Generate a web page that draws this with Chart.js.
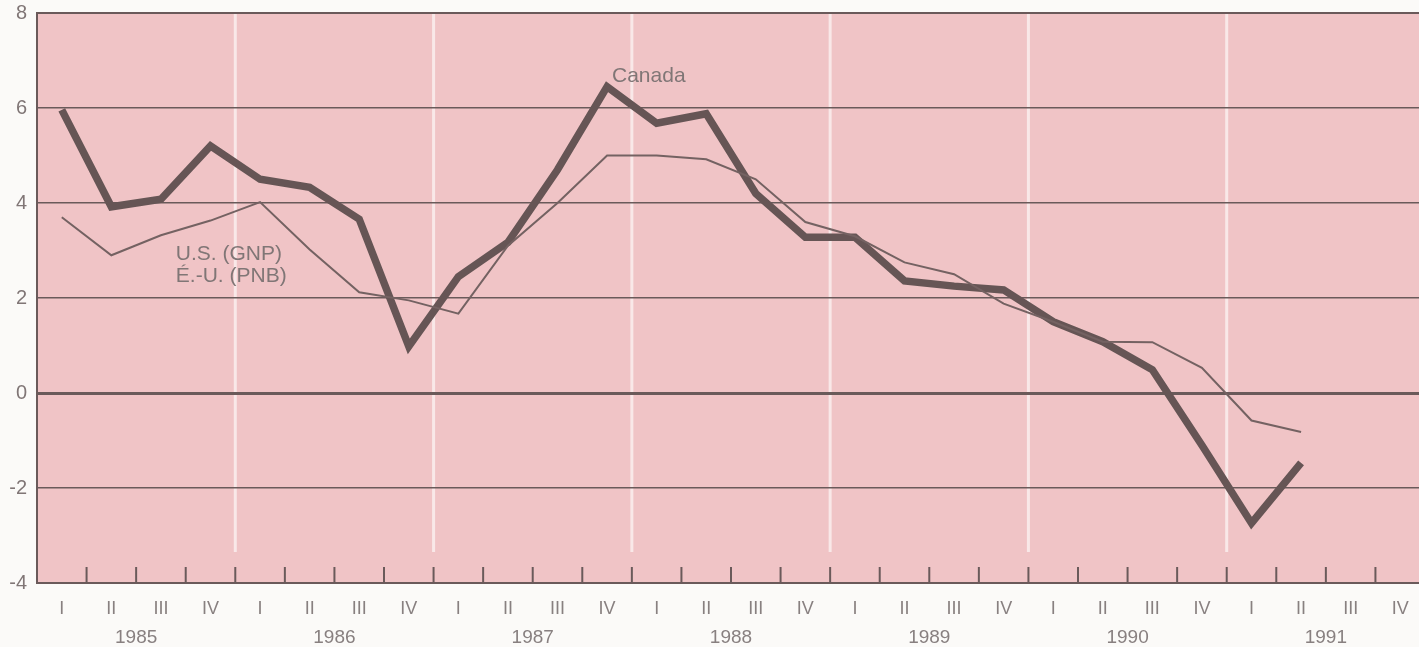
<!DOCTYPE html>
<html>
<head>
<meta charset="utf-8">
<script src="https://cdn.jsdelivr.net/npm/chart.js@4.4.1/dist/chart.umd.min.js"></script>
<style>
    html, body { margin: 0; padding: 0; background: #fbfaf8; overflow: hidden; }
    #wrap { width: 1425px; height: 647px; position: relative; }
</style>
</head>
<body>
<div id="wrap"><canvas id="chart"></canvas></div>
<script>
// Quarterly data, 1985 I to 1991 IV
const quarters = ['I', 'II', 'III', 'IV', 'I', 'II', 'III', 'IV', 'I', 'II', 'III', 'IV', 'I', 'II', 'III', 'IV',
    'I', 'II', 'III', 'IV', 'I', 'II', 'III', 'IV', 'I', 'II', 'III', 'IV'];
const years = ['1985', '1986', '1987', '1988', '1989', '1990', '1991'];
const canada = [5.96, 3.92, 4.08, 5.2, 4.5, 4.33, 3.66, 0.98, 2.45, 3.17, 4.7, 6.45, 5.68, 5.88, 4.2, 3.28,
    3.28, 2.36, 2.25, 2.17, 1.5, 1.08, 0.49, -1.1, -2.74, -1.47, null, null];
const usGnp = [3.7, 2.9, 3.32, 3.63, 4.02, 3.02, 2.12, 1.95, 1.67, 3.1, 4.0, 5.0, 5.0, 4.92, 4.5, 3.6,
    3.3, 2.75, 2.5, 1.88, 1.5, 1.08, 1.07, 0.53, -0.58, -0.82, null, null];
const yTicks = [8, 6, 4, 2, 0, -2, -4];

const ink = '#6a5a5a';
const textColor = '#807676';
const fontFamily = '"Liberation Sans", Arial, Helvetica, sans-serif';

// Pink plot area, white year separators, quarter tick marks and the two line labels
const framePlugin = {
    id: 'frame',
    beforeDraw(chart) {
        const {ctx, chartArea: a, scales: {x}} = chart;
        ctx.save();
        ctx.fillStyle = '#f0c4c6';
        ctx.fillRect(a.left, a.top, a.right - a.left, a.bottom - a.top);
        ctx.strokeStyle = '#f9e8e8';
        ctx.lineWidth = 3;
        for (let i = 4; i < quarters.length; i += 4) {
            const px = x.getPixelForValue(i - 0.5);
            ctx.beginPath();
            ctx.moveTo(px, a.top);
            ctx.lineTo(px, a.bottom - 31);
            ctx.stroke();
        }
        ctx.restore();
    },
    afterDatasetsDraw(chart) {
        const {ctx, chartArea: a, scales: {x, y}} = chart;
        ctx.save();
        ctx.strokeStyle = ink;
        ctx.lineWidth = 2;
        for (let i = 1; i <= quarters.length; i++) {
            const px = x.getPixelForValue(i - 0.5);
            ctx.beginPath();
            ctx.moveTo(px, a.bottom);
            ctx.lineTo(px, a.bottom - 16);
            ctx.stroke();
        }
        ctx.fillStyle = textColor;
        ctx.font = '21px ' + fontFamily;
        ctx.textBaseline = 'middle';
        ctx.textAlign = 'left';
        ctx.fillText('Canada', x.getPixelForValue(11.1), y.getPixelForValue(6.67));
        ctx.fillText('U.S. (GNP)', x.getPixelForValue(2.3), y.getPixelForValue(2.92));
        ctx.fillText('É.-U. (PNB)', x.getPixelForValue(2.3), y.getPixelForValue(2.46));
        ctx.restore();
    }
};

new Chart(document.getElementById('chart'), {
    type: 'line',
    data: {
        labels: quarters,
        datasets: [{
            label: 'U.S. (GNP)',
            data: usGnp,
            borderColor: '#746262',
            borderWidth: 2,
            pointRadius: 0,
            tension: 0
        }, {
            label: 'Canada',
            data: canada,
            borderColor: '#665555',
            borderWidth: 7.5,
            borderJoinStyle: 'miter',
            pointRadius: 0,
            tension: 0
        }]
    },
    options: {
        responsive: true,
        maintainAspectRatio: false,
        animation: false,
        layout: { padding: { top: 13, right: 0, left: 0, bottom: 0 } },
        plugins: {
            legend: { display: false },
            tooltip: { enabled: false }
        },
        scales: {
            x: {
                type: 'category',
                offset: true,
                weight: 0,
                grid: { display: false, drawTicks: false },
                border: { display: true, color: ink, width: 2 },
                ticks: {
                    autoSkip: false,
                    maxRotation: 0,
                    padding: 15,
                    color: '#888080',
                    font: { family: fontFamily, size: 18 }
                },
                afterFit: function(scale) { scale.height = 38; }
            },
            x2: {
                type: 'category',
                position: 'bottom',
                labels: years,
                offset: true,
                weight: 1,
                grid: { display: false, drawTicks: false },
                border: { display: false },
                ticks: {
                    autoSkip: false,
                    maxRotation: 0,
                    padding: 5,
                    color: '#888080',
                    font: { family: fontFamily, size: 19 }
                },
                afterFit: function(scale) { scale.height = 26; }
            },
            y: {
                min: -4,
                max: 8,
                afterBuildTicks: function(scale) {
                    scale.ticks = yTicks.map(v => ({ value: v }));
                },
                grid: {
                    drawTicks: false,
                    color: ink,
                    lineWidth: function(context) {
                        const v = context.tick && context.tick.value;
                        if (v === 0) return 3;
                        if (v === 8) return 2;
                        if (v === -4) return 0;
                        return 1.5;
                    }
                },
                border: { display: true, color: ink, width: 2 },
                ticks: {
                    padding: 10,
                    color: textColor,
                    font: { family: fontFamily, size: 20 },
                    callback: function(value) { return value; }
                },
                afterFit: function(scale) {
                    scale.width = 37;
                    scale.paddingTop = 0;
                    scale.paddingBottom = 0;
                }
            }
        }
    },
    plugins: [framePlugin]
});
</script>
</body>
</html>
